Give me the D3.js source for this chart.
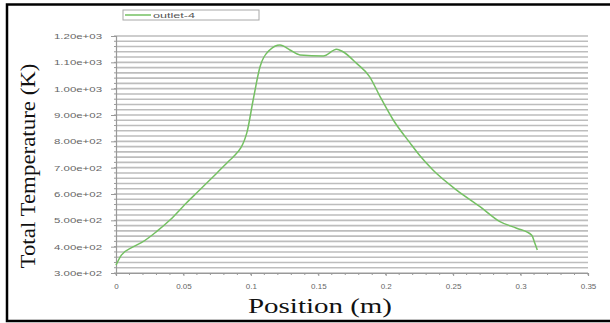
<!DOCTYPE html>
<html>
<head>
<meta charset="utf-8">
<script src="https://cdn.jsdelivr.net/npm/d3@7"></script>
<style>
  html, body { margin: 0; padding: 0; background: #fff; }
  svg { display: block; }
</style>
</head>
<body>
<div id="rootDiv"></div>
<script>
// data: position (m) vs total temperature (K)
const seriesName = "outlet-4";
const positions = [0, 0.004, 0.0126, 0.02, 0.03, 0.04, 0.052, 0.062, 0.0747, 0.0845, 0.087, 0.097, 0.1017, 0.1068, 0.114, 0.1216, 0.129, 0.1364, 0.1537, 0.1636, 0.168, 0.1784, 0.188, 0.1958, 0.2056, 0.218, 0.2254, 0.235, 0.2526, 0.2699, 0.2847, 0.2971, 0.3082, 0.3106, 0.3124];
const temperatures = [330, 368, 399, 419, 457, 501, 565, 615, 679, 729, 741, 832, 957, 1083, 1147, 1166, 1147, 1128, 1124, 1150, 1141, 1096, 1046, 970, 881, 794, 745, 691, 615, 552, 495, 470, 444, 413, 387];
const xTicks = [0, 0.05, 0.1, 0.15, 0.2, 0.25, 0.3, 0.35];
const xTickLabels = ["0", "0.05", "0.1", "0.15", "0.2", "0.25", "0.3", "0.35"];
const yTicks = [300, 400, 500, 600, 700, 800, 900, 1000, 1100, 1200];
const yTickLabels = ["3.00e+02", "4.00e+02", "5.00e+02", "6.00e+02", "7.00e+02", "8.00e+02", "9.00e+02", "1.00e+03", "1.10e+03", "1.20e+03"];

const W = 610, H = 323;
const plot = { left: 116, right: 588, top: 36, bottom: 273 };
const green = "#74c062";

const x = d3.scaleLinear().domain([0, 0.35]).range([plot.left, plot.right]);
const y = d3.scaleLinear().domain([300, 1200]).range([plot.bottom, plot.top]);

const svg = d3.select("#rootDiv").append("svg")
    .attr("width", W)
    .attr("height", H);

svg.append("rect").attr("width", W).attr("height", H).attr("fill", "#fff");

// outer frame (open at the right)
svg.append("path")
    .attr("d", `M${W},4.5 H7 V321 H${W}`)
    .attr("fill", "none")
    .attr("stroke", "#000")
    .attr("stroke-width", 2.5);

// horizontal grid, one line every 20 K
const gridVals = d3.range(300, 1201, 20);
svg.append("g")
    .selectAll("line")
    .data(gridVals)
    .enter()
    .append("line")
    .attr("x1", plot.left)
    .attr("x2", plot.right)
    .attr("y1", d => y(d))
    .attr("y2", d => y(d))
    .attr("stroke", "#bdbdbd")
    .attr("stroke-width", 1.6);

// minor ticks on the y axis
svg.append("g")
    .selectAll("line")
    .data(gridVals)
    .enter()
    .append("line")
    .attr("x1", plot.left - 2)
    .attr("x2", plot.left)
    .attr("y1", d => y(d))
    .attr("y2", d => y(d))
    .attr("stroke", "#999");

// y axis
const yAxis = svg.append("g")
    .attr("transform", `translate(${plot.left},0)`)
    .call(d3.axisLeft(y).tickValues(yTicks).tickSize(5).tickPadding(9)
        .tickFormat((d, i) => yTickLabels[i]));
yAxis.selectAll("text").attr("textLength", 48).attr("lengthAdjust", "spacingAndGlyphs");

// x axis
const xAxis = svg.append("g")
    .attr("transform", `translate(0,${plot.bottom})`)
    .call(d3.axisBottom(x).tickValues(xTicks).tickSize(3).tickPadding(7)
        .tickFormat((d, i) => xTickLabels[i]));

// minor ticks on the x axis
svg.append("g")
    .selectAll("line")
    .data(d3.range(0, 0.3501, 0.01))
    .enter()
    .append("line")
    .attr("x1", d => x(d))
    .attr("x2", d => x(d))
    .attr("y1", plot.bottom)
    .attr("y2", plot.bottom + 2)
    .attr("stroke", "#999");

for (const axis of [xAxis, yAxis]) {
    axis.select(".domain").attr("stroke", "#999").attr("stroke-width", 1.2);
    axis.selectAll("line").attr("stroke", "#999");
    axis.selectAll("text")
        .attr("fill", "#666")
        .style("font-family", "'Liberation Sans', Arial, sans-serif")
        .style("font-size", "8px");
}

// curve
const line = d3.line()
    .x(d => x(d[0]))
    .y(d => y(d[1]))
    .curve(d3.curveMonotoneX);

svg.append("path")
    .datum(positions.map((p, i) => [p, temperatures[i]]))
    .attr("d", line)
    .attr("fill", "none")
    .attr("stroke", green)
    .attr("stroke-width", 1.5);

// legend
const legend = svg.append("g").attr("transform", "translate(123,10)");
legend.append("rect")
    .attr("width", 136)
    .attr("height", 10)
    .attr("fill", "#fff")
    .attr("stroke", "#a8a8a8");
legend.append("line")
    .attr("x1", 2).attr("x2", 28)
    .attr("y1", 5).attr("y2", 5)
    .attr("stroke", green)
    .attr("stroke-width", 1.5);
legend.append("text")
    .attr("x", 30)
    .attr("y", 8)
    .attr("textLength", 42)
    .attr("lengthAdjust", "spacingAndGlyphs")
    .attr("fill", "#555")
    .style("font-family", "'Liberation Sans', Arial, sans-serif")
    .style("font-size", "8px")
    .text(seriesName);

// axis titles
svg.append("text")
    .attr("transform", "translate(35,166) rotate(-90)")
    .attr("text-anchor", "middle")
    .attr("textLength", 205)
    .attr("lengthAdjust", "spacingAndGlyphs")
    .attr("fill", "#111")
    .style("font-family", "'Liberation Serif', 'Times New Roman', serif")
    .style("font-size", "22px")
    .text("Total Temperature (K)");

svg.append("text")
    .attr("x", 320)
    .attr("y", 313)
    .attr("text-anchor", "middle")
    .attr("textLength", 144)
    .attr("lengthAdjust", "spacingAndGlyphs")
    .attr("fill", "#111")
    .style("font-family", "'Liberation Serif', 'Times New Roman', serif")
    .style("font-size", "21px")
    .text("Position (m)");
</script>
</body>
</html>
